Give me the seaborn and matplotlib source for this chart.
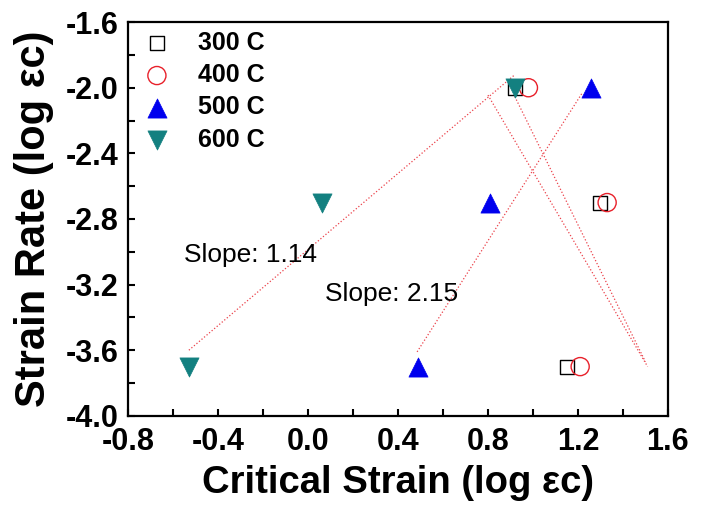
import matplotlib
matplotlib.use("Agg")
import matplotlib.pyplot as plt
import seaborn as sns
import pandas as pd
import numpy as np
from matplotlib.ticker import MultipleLocator

sns.set_theme(style="white")
plt.rcParams['font.family'] = ['Liberation Sans', 'DejaVu Sans']
plt.rcParams['text.color'] = 'black'
plt.rcParams['axes.labelcolor'] = 'black'
plt.rcParams['xtick.color'] = 'black'
plt.rcParams['ytick.color'] = 'black'

# Data (log critical strain vs log strain rate)
strain_rate = [-2.0, -2.7, -3.7]
x_300 = [0.92, 1.30, 1.15]
x_400 = [0.98, 1.33, 1.21]
x_500 = [1.26, 0.81, 0.49]
x_600 = [0.92, 0.06, -0.53]

temps = ["300 C", "400 C", "500 C", "600 C"]

# Fit lines (endpoints)
fit1_x = [-0.53, 0.92]
fit1_y = [-3.60, -1.92]
fit2_x = [0.485, 1.22]
fit2_y = [-3.61, -2.03]
fit3_x = [0.80, 1.51]
fit3_y = [-2.045, -3.70]
fit4_x = [0.90, 1.50]
fit4_y = [-2.00, -3.67]

slope_labels = ["Slope: 1.14", "Slope: 2.15"]

fig = plt.figure(figsize=(7.12, 5.14), dpi=100)
ax = fig.add_axes([0.180, 0.191, 0.758, 0.766])

line_kw = dict(color="#e8202a", linestyle=":", linewidth=0.9, alpha=0.85)
for fx, fy in [(fit1_x, fit1_y), (fit2_x, fit2_y), (fit3_x, fit3_y), (fit4_x, fit4_y)]:
    ax.plot(fx, fy, **line_kw)

series = [
    (x_300, dict(marker="s", s=110, facecolor="white", edgecolor="black", linewidth=1.0)),
    (x_400, dict(marker="o", s=170, facecolor="none", edgecolor="#e8202a", linewidth=1.0)),
    (x_500, dict(marker="^", s=190, color="#0000ee", edgecolor="#0000ee", linewidth=0.5)),
    (x_600, dict(marker="v", s=190, color="#138080", edgecolor="#138080", linewidth=0.5)),
]
for (xs, kw), t in zip(series, temps):
    df = pd.DataFrame({"x": xs, "y": strain_rate})
    sns.scatterplot(data=df, x="x", y="y", ax=ax, label=t, zorder=3, **kw)

ax.text(-0.551, -3.02, slope_labels[0], fontsize=19, ha="left", va="center")
ax.text(0.076, -3.26, slope_labels[1], fontsize=19, ha="left", va="center")

ax.set_xlim(-0.8, 1.6)
ax.set_ylim(-4.0, -1.6)
ax.xaxis.set_major_locator(MultipleLocator(0.4))
ax.xaxis.set_minor_locator(MultipleLocator(0.2))
ax.yaxis.set_major_locator(MultipleLocator(0.4))
ax.yaxis.set_minor_locator(MultipleLocator(0.2))
ax.tick_params(which="both", direction="in", length=5, width=1.5, color="black",
               bottom=True, left=True, top=False, right=False)
ax.tick_params(axis="x", which="major", labelsize=22, pad=8)
ax.tick_params(axis="y", which="major", labelsize=22, pad=7)
ax.set_xticks(ax.get_xticks())
ax.set_yticks(ax.get_yticks())
ax.set_xticklabels([f"{v:.1f}" for v in ax.get_xticks()], fontweight="bold")
ax.set_yticklabels([f"{v:.1f}" for v in ax.get_yticks()], fontweight="bold")
ax.set_xlim(-0.8, 1.6)
ax.set_ylim(-4.0, -1.6)

for sp in ax.spines.values():
    sp.set_color("black")
    sp.set_linewidth(1.6)

ax.set_xlabel("Critical Strain (log \u03b5c)", fontsize=27.5, fontweight="bold", labelpad=6)
ax.set_ylabel("Strain Rate (log \u03b5c)", fontsize=30, fontweight="bold", labelpad=8)

leg = ax.legend(loc="upper left", frameon=False, prop=dict(size=18, weight="bold"),
                handletextpad=0.85, handlelength=1.6, labelspacing=0.33,
                borderaxespad=0.05, borderpad=0.3)

fig.savefig("out.png", dpi=100)
